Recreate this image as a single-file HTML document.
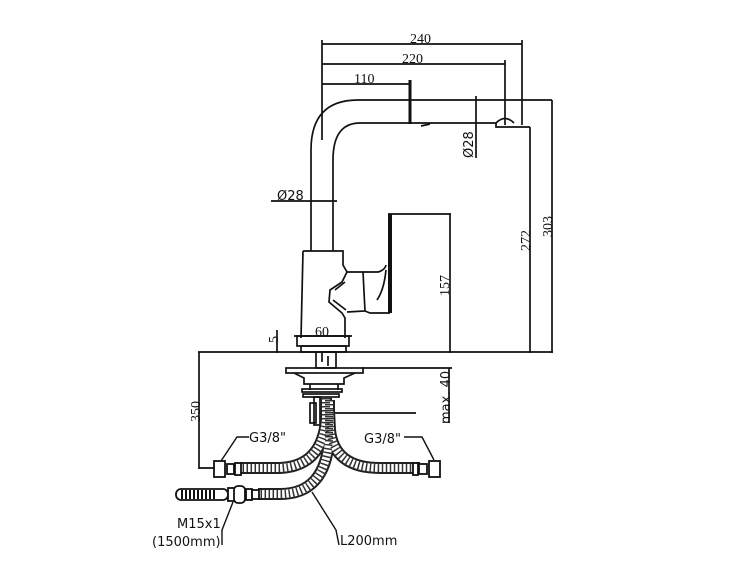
<!DOCTYPE html>
<html><head><meta charset="utf-8"><style>
html,body{margin:0;padding:0;background:#fff;width:750px;height:580px;overflow:hidden}
svg{display:block}
text{font-family:"DejaVu Sans","Liberation Sans",sans-serif;font-size:13px;fill:#111}
.s{font-family:"Liberation Serif",serif;font-size:14px}
</style></head><body>
<svg width="750" height="580" viewBox="0 0 750 580" xmlns="http://www.w3.org/2000/svg">
<g fill="none" stroke="#111" stroke-width="1.7">
<line x1="322" y1="44" x2="522" y2="44"/>
<line x1="322" y1="64" x2="505" y2="64"/>
<line x1="322" y1="84" x2="410" y2="84"/>
<line x1="322" y1="40" x2="322" y2="140"/>
<line x1="522" y1="40" x2="522" y2="125"/>
<line x1="505" y1="60" x2="505" y2="125"/>
<line x1="410" y1="80" x2="410" y2="124" stroke-width="3"/>
<path d="M311,251 L311,150 Q311,100 358,100 L552,100"/>
<path d="M333,251 L333,160 Q333,123 360,123 L496,123 L496,127 L530,127"/>
<path d="M496,123 Q505,114 514,123" />
<path d="M421,126 L430,124"/>
<line x1="476" y1="96" x2="476" y2="158"/>
<line x1="530" y1="127" x2="530" y2="353"/>
<line x1="552" y1="100" x2="552" y2="353"/>
<line x1="271" y1="201" x2="337" y2="201"/>
<path d="M303,251 L343,251 L343,265 L347,272 L342,282 L330,290 L329,302 L342,313 L345,318 L345,338"/>
<path d="M303,251 L301,338"/>
<path d="M347,272 L363,272 L365,311 L347,312"/>
<path d="M363,272 L378,272 Q385,270 386,265"/>
<path d="M365,311 L370,313 L390,313"/>
<path d="M386,270 Q384,290 377,300"/>
<path d="M335,290 L345,282 M333,300 L346,310"/>
<rect x="388" y="214" width="4" height="99" fill="#111" stroke="none"/>
<line x1="388" y1="214" x2="451" y2="214"/>
<line x1="450" y1="214" x2="450" y2="353"/>
<rect x="297" y="336" width="52" height="10"/>
<line x1="294" y1="336" x2="352" y2="336"/>
<rect x="301" y="346" width="45" height="6"/>
<line x1="277" y1="330" x2="277" y2="353"/>
<line x1="198" y1="352" x2="553" y2="352"/>
<line x1="199" y1="352" x2="199" y2="469"/>
<line x1="199" y1="468" x2="218" y2="468"/>
<rect x="316" y="352" width="20" height="16"/>
<path d="M322,352 L322,362 M328,356 L328,366"/>
<rect x="286" y="368" width="77" height="5"/>
<path d="M294,373 L304,378 L304,384 L344,384 L344,378 L355,373"/>
<path d="M310,384 L310,390 M338,384 L338,390"/>
<line x1="362" y1="368" x2="452" y2="368"/>
<line x1="449" y1="368" x2="449" y2="423"/>
<rect x="302" y="389" width="40" height="3" />
<rect x="303" y="394" width="36" height="3" />
<rect x="314" y="397" width="6" height="28"/>
<rect x="310" y="403" width="6" height="20"/>
<line x1="334" y1="413" x2="416" y2="413"/>
</g>
<g fill="none" stroke-linecap="butt">
<g stroke="#222" stroke-width="12">
<path d="M326,398 L326,420 Q322,466 280,468 L240,468"/>
<path d="M329,410 L330,430 Q334,468 380,468 L420,468"/>
<path d="M329,400 L329,440 Q325,494 280,494 L258,494"/>
</g>
<g stroke="#fff" stroke-width="8">
<path d="M326,398 L326,420 Q322,466 280,468 L240,468"/>
<path d="M329,410 L330,430 Q334,468 380,468 L420,468"/>
<path d="M329,400 L329,440 Q325,494 280,494 L258,494"/>
</g>
<g stroke="#333" stroke-width="8" stroke-dasharray="1.5 2.5">
<path d="M326,398 L326,420 Q322,466 280,468 L240,468"/>
<path d="M329,410 L330,430 Q334,468 380,468 L420,468"/>
<path d="M329,400 L329,440 Q325,494 280,494 L258,494"/>
</g>
</g>
<g fill="#fff" stroke="#111" stroke-width="1.8">
<rect x="214" y="461" width="11" height="16"/>
<rect x="227" y="464" width="7" height="10"/>
<rect x="235" y="463" width="6" height="12"/>
<rect x="429" y="461" width="11" height="16"/>
<rect x="419" y="464" width="8" height="10"/>
<rect x="413" y="463" width="5" height="12"/>
<rect x="176" y="489" width="52" height="11" rx="5"/>
<rect x="228" y="488" width="7" height="13"/>
<rect x="234" y="486" width="11" height="17" rx="4"/>
<rect x="246" y="489" width="6" height="11"/>
<rect x="252" y="490" width="7" height="9"/>
</g>
<path d="M182,490 V499 M186,490 V499 M190,490 V499 M194,490 V499 M198,490 V499 M202,490 V499 M206,490 V499 M210,490 V499 M214,490 V499" stroke="#111" stroke-width="2"/>
<g fill="none" stroke="#111" stroke-width="1.4">
<path d="M249,437 L237,437 L221,461"/>
<path d="M404,437 L422,437 L434,460"/>
<path d="M222,545 L222,530 L233,502"/>
<path d="M339,545 L336,530 L312,492"/>
</g>
<text class="s" x="410" y="43">240</text>
<text class="s" x="402" y="63">220</text>
<text class="s" x="354" y="83">110</text>
<text x="277" y="200">Ø28</text>
<text class="s" x="315" y="336">60</text>
<text x="473" y="158" transform="rotate(-90 473 158)">Ø28</text>
<text class="s" x="449" y="296" transform="rotate(-90 449 296)">157</text>
<text class="s" x="530" y="251" transform="rotate(-90 530 251)">272</text>
<text class="s" x="552" y="237" transform="rotate(-90 552 237)">303</text>
<text class="s" x="278" y="343" transform="rotate(-90 278 343)">5</text>
<text class="s" x="200" y="422" transform="rotate(-90 200 422)">350</text>
<text x="450" y="424" transform="rotate(-90 450 424)">max. 40</text>
<text x="249" y="442">G3/8"</text>
<text x="364" y="443">G3/8"</text>
<text x="177" y="528">M15x1</text>
<text x="152" y="546">(1500mm)</text>
<text x="340" y="545">L200mm</text>
</svg>
</body></html>
